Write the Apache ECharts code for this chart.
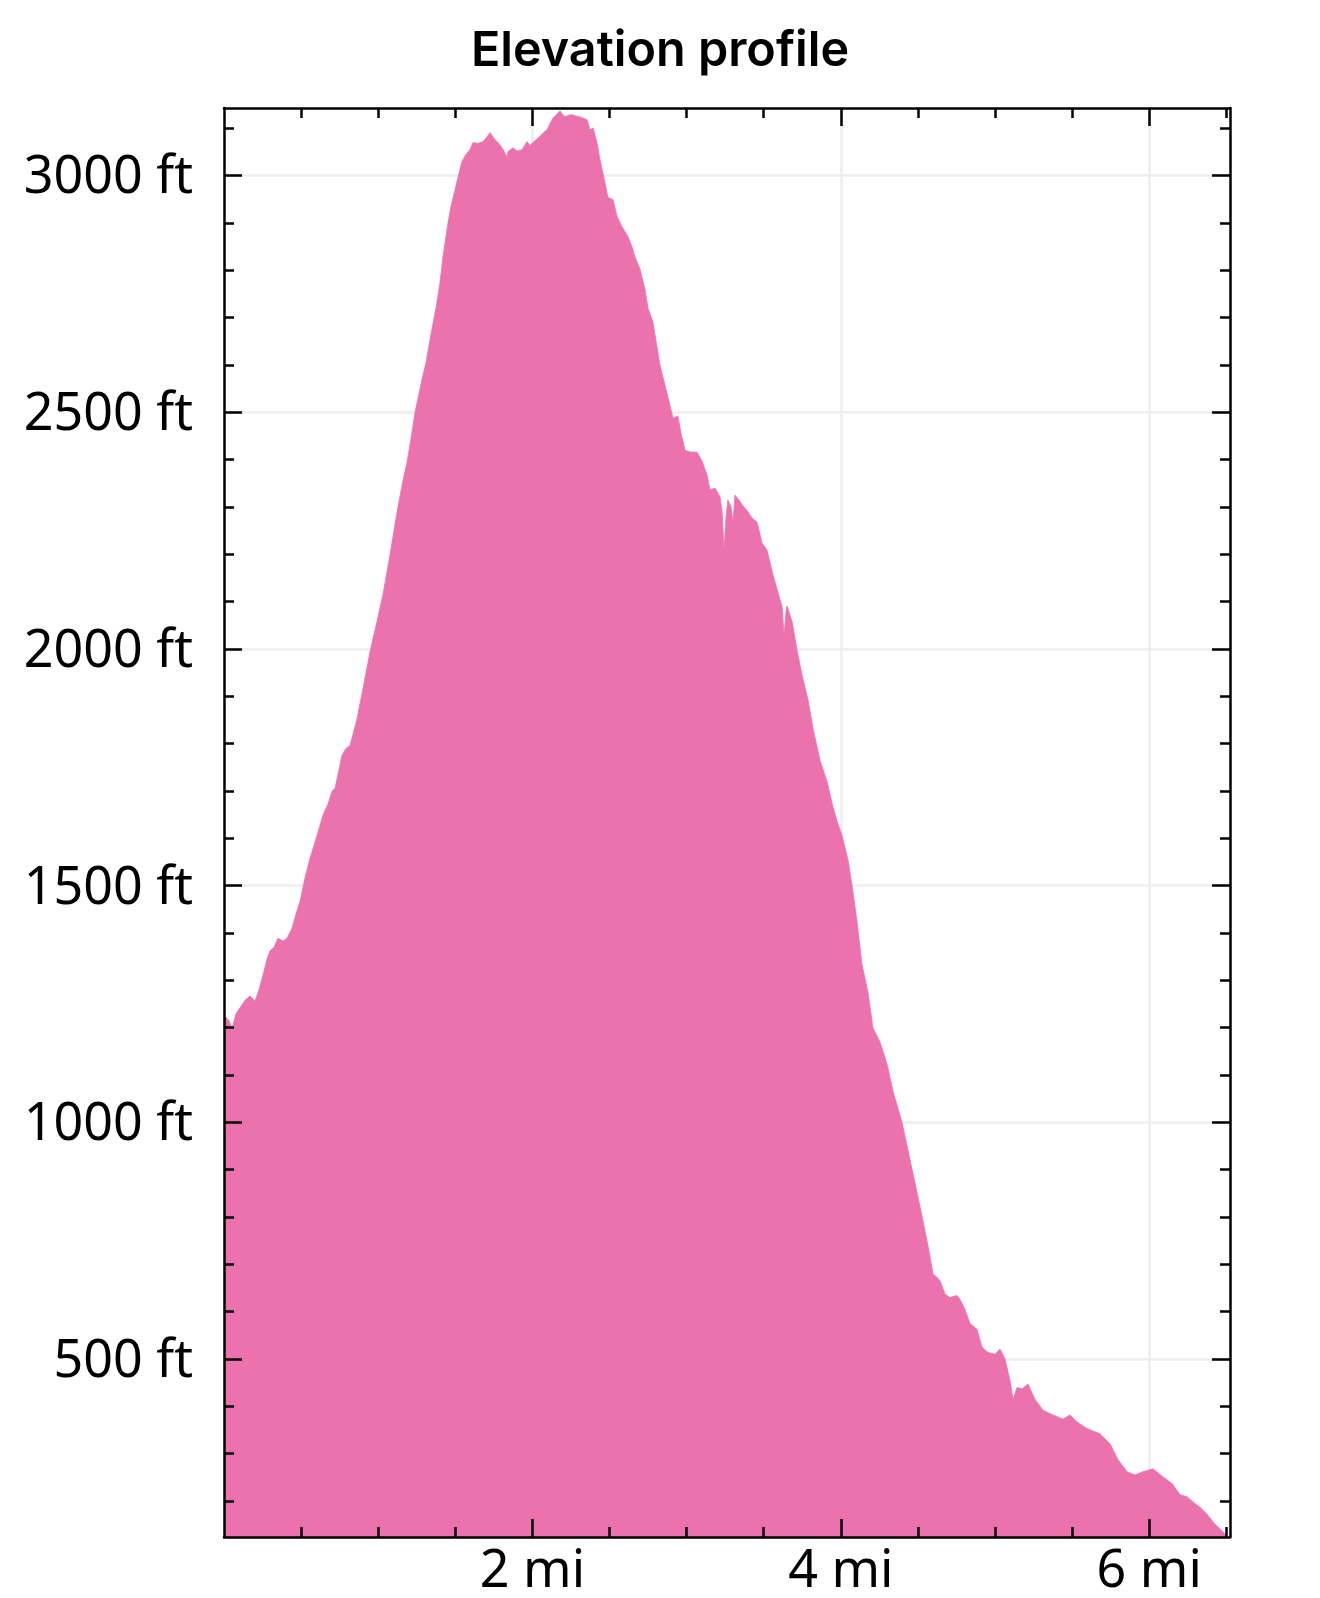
<!DOCTYPE html>
<html>
<head>
<meta charset="utf-8">
<script src="https://cdn.jsdelivr.net/npm/echarts@6/dist/echarts.min.js"></script>
<style>
html,body{margin:0;padding:0;background:#fff;}
#chart{width:1320px;height:1598px;}
</style>
</head>
<body>
<div id="chart"></div>
<script>
// Distance along the trail (miles)
var distanceMi = [
0,0.013,0.032,0.052,0.078,0.104,0.136,0.169,0.201,0.227,0.253,0.279,0.298,0.324,0.350,0.383,0.409,0.441,0.467,0.493,
0.525,0.558,0.603,0.642,0.674,0.700,0.720,0.739,0.765,0.791,0.817,0.837,0.863,0.901,0.947,0.992,1.031,1.077,1.122,1.154,
1.187,1.213,1.239,1.284,1.310,1.336,1.381,1.401,1.420,1.453,1.472,1.498,1.511,1.543,1.569,1.595,1.615,1.647,1.680,1.706,
1.725,1.757,1.783,1.803,1.822,1.835,1.842,1.874,1.900,1.933,1.965,1.984,2.004,2.030,2.049,2.075,2.095,2.114,2.134,2.160,
2.179,2.192,2.211,2.237,2.257,2.283,2.309,2.335,2.354,2.374,2.393,2.419,2.438,2.471,2.490,2.523,2.549,2.581,2.620,2.646,
2.665,2.698,2.730,2.750,2.782,2.802,2.827,2.873,2.912,2.944,2.964,2.990,3.022,3.067,3.100,3.132,3.152,3.184,3.217,3.230,
3.243,3.256,3.268,3.288,3.301,3.314,3.340,3.366,3.398,3.424,3.457,3.489,3.521,3.560,3.606,3.619,3.632,3.645,3.651,3.684,
3.716,3.748,3.787,3.820,3.865,3.911,3.949,3.982,4.008,4.047,4.073,4.105,4.137,4.176,4.209,4.254,4.300,4.339,4.397,4.429,
4.468,4.514,4.540,4.565,4.598,4.624,4.643,4.676,4.708,4.728,4.754,4.773,4.805,4.838,4.883,4.916,4.955,5.000,5.032,5.065,
5.097,5.117,5.143,5.175,5.214,5.259,5.311,5.376,5.441,5.486,5.532,5.597,5.681,5.746,5.798,5.856,5.908,5.960,6.025,6.089,
6.148,6.200,6.245,6.284,6.329,6.375,6.427,6.479,6.511
];
// Elevation (feet)
var elevationFt = [
1205,1222,1215,1198,1230,1242,1258,1267,1256,1280,1311,1345,1362,1370,1389,1383,1389,1410,1440,1467,
1516,1558,1606,1649,1672,1699,1706,1735,1775,1790,1796,1820,1853,1916,1994,2058,2115,2200,2289,2345,
2395,2445,2500,2570,2605,2654,2732,2775,2829,2901,2935,2970,2988,3030,3045,3055,3070,3068,3072,3082,
3091,3076,3068,3059,3048,3040,3051,3059,3052,3055,3072,3064,3070,3078,3083,3092,3097,3110,3122,3130,
3137,3131,3124,3128,3129,3126,3124,3121,3118,3097,3101,3070,3034,2985,2954,2949,2914,2892,2871,2850,
2829,2802,2760,2720,2690,2650,2600,2540,2488,2492,2455,2420,2416,2416,2397,2368,2336,2340,2321,2290,
2209,2280,2315,2300,2268,2325,2315,2302,2290,2277,2268,2224,2209,2157,2104,2090,2028,2080,2091,2058,
1998,1946,1893,1832,1765,1720,1666,1630,1606,1554,1500,1425,1334,1275,1199,1170,1123,1065,1000,951,
892,822,780,740,680,672,666,637,630,632,634,626,605,575,563,525,514,510,521,500,
455,415,440,437,447,415,392,382,373,382,367,353,342,321,287,262,255,262,268,251,
237,213,209,198,187,172,151,135,124
];
var xMajorTicks = [2, 4, 6];
var xMinorTicks = [0.5, 1, 1.5, 2.5, 3, 3.5, 4.5, 5, 5.5, 6.5];
var yMajorTicks = [500, 1000, 1500, 2000, 2500, 3000];
var yMinorTicks = [200,300,400,600,700,800,900,1100,1200,1300,1400,1600,1700,1800,1900,2100,2200,2300,2400,2600,2700,2800,2900,3100];
var xRange = [0, 6.524];
var yRange = [124, 3143];
var titleText = 'Elevation profile';

var points = distanceMi.map(function (d, i) { return [d, elevationFt[i]]; });

var LINE = {color: '#000', width: 2.5};
var labelFont = {fontFamily: 'Noto Sans', fontSize: 52, color: '#000'};

function xAxisDef(opt) {
  return Object.assign({
    type: 'value', min: xRange[0], max: xRange[1], gridIndex: 0,
    axisLine: {show: false, onZero: false, lineStyle: LINE},
    axisTick: {show: false},
    axisLabel: {show: false},
    splitLine: {show: false}
  }, opt);
}
function yAxisDef(opt) {
  return Object.assign({
    type: 'value', min: yRange[0], max: yRange[1], gridIndex: 0,
    axisLine: {show: false, onZero: false, lineStyle: LINE},
    axisTick: {show: false},
    axisLabel: {show: false},
    splitLine: {show: false}
  }, opt);
}

var option = {
  animation: false,
  backgroundColor: '#fff',
  title: {
    text: titleText, left: 'center', top: 22,
    textStyle: {fontFamily: 'Inter', fontWeight: 600, fontSize: 48.5, color: '#000'}
  },
  grid: {left: 224, right: 90, top: 108, bottom: 58, containLabel: false},
  xAxis: [
    xAxisDef({position: 'bottom', z: 0,
      axisTick: {show: false, customValues: xMajorTicks},
      splitLine: {show: true, lineStyle: {color: '#eeeeee', width: 2.5}}}),
    xAxisDef({position: 'bottom', z: 10,
      axisLine: {show: true, onZero: false, lineStyle: LINE},
      axisTick: {show: true, inside: true, length: 18, customValues: xMajorTicks, lineStyle: LINE},
      axisLabel: Object.assign({show: true, margin: 9, customValues: xMajorTicks,
        formatter: function (v) { return v + ' mi'; }}, labelFont)}),
    xAxisDef({position: 'bottom', z: 10,
      axisTick: {show: true, inside: true, length: 10, customValues: xMinorTicks, lineStyle: LINE}}),
    xAxisDef({position: 'top', z: 10,
      axisLine: {show: true, onZero: false, lineStyle: LINE},
      axisTick: {show: true, inside: true, length: 18, customValues: xMajorTicks, lineStyle: LINE}}),
    xAxisDef({position: 'top', z: 10,
      axisTick: {show: true, inside: true, length: 10, customValues: xMinorTicks, lineStyle: LINE}})
  ],
  yAxis: [
    yAxisDef({position: 'left', z: 0,
      axisTick: {show: false, customValues: yMajorTicks},
      splitLine: {show: true, lineStyle: {color: '#eeeeee', width: 2.5}}}),
    yAxisDef({position: 'left', z: 10,
      axisLine: {show: true, onZero: false, lineStyle: LINE},
      axisTick: {show: true, inside: true, length: 18, customValues: yMajorTicks, lineStyle: LINE},
      axisLabel: {show: true, margin: 31, customValues: yMajorTicks,
        formatter: function (v) { return '{v|' + v + ' ft}'; },
        rich: {v: Object.assign({padding: [6, 0, 0, 0]}, labelFont)}}}),
    yAxisDef({position: 'left', z: 10,
      axisTick: {show: true, inside: true, length: 10, customValues: yMinorTicks, lineStyle: LINE}}),
    yAxisDef({position: 'right', z: 10,
      axisLine: {show: true, onZero: false, lineStyle: LINE},
      axisTick: {show: true, inside: true, length: 18, customValues: yMajorTicks, lineStyle: LINE}}),
    yAxisDef({position: 'right', z: 10,
      axisTick: {show: true, inside: true, length: 10, customValues: yMinorTicks, lineStyle: LINE}})
  ],
  series: [{
    type: 'line',
    xAxisIndex: 0, yAxisIndex: 0,
    data: points,
    showSymbol: false,
    symbol: 'none',
    z: 2,
    lineStyle: {width: 0.8, color: '#ec72ae'},
    areaStyle: {color: '#ec72ae', opacity: 1, origin: 'start'}
  }]
};

var chart = echarts.init(document.getElementById('chart'), null, {renderer: 'canvas'});
chart.setOption(option);
</script>
</body>
</html>
